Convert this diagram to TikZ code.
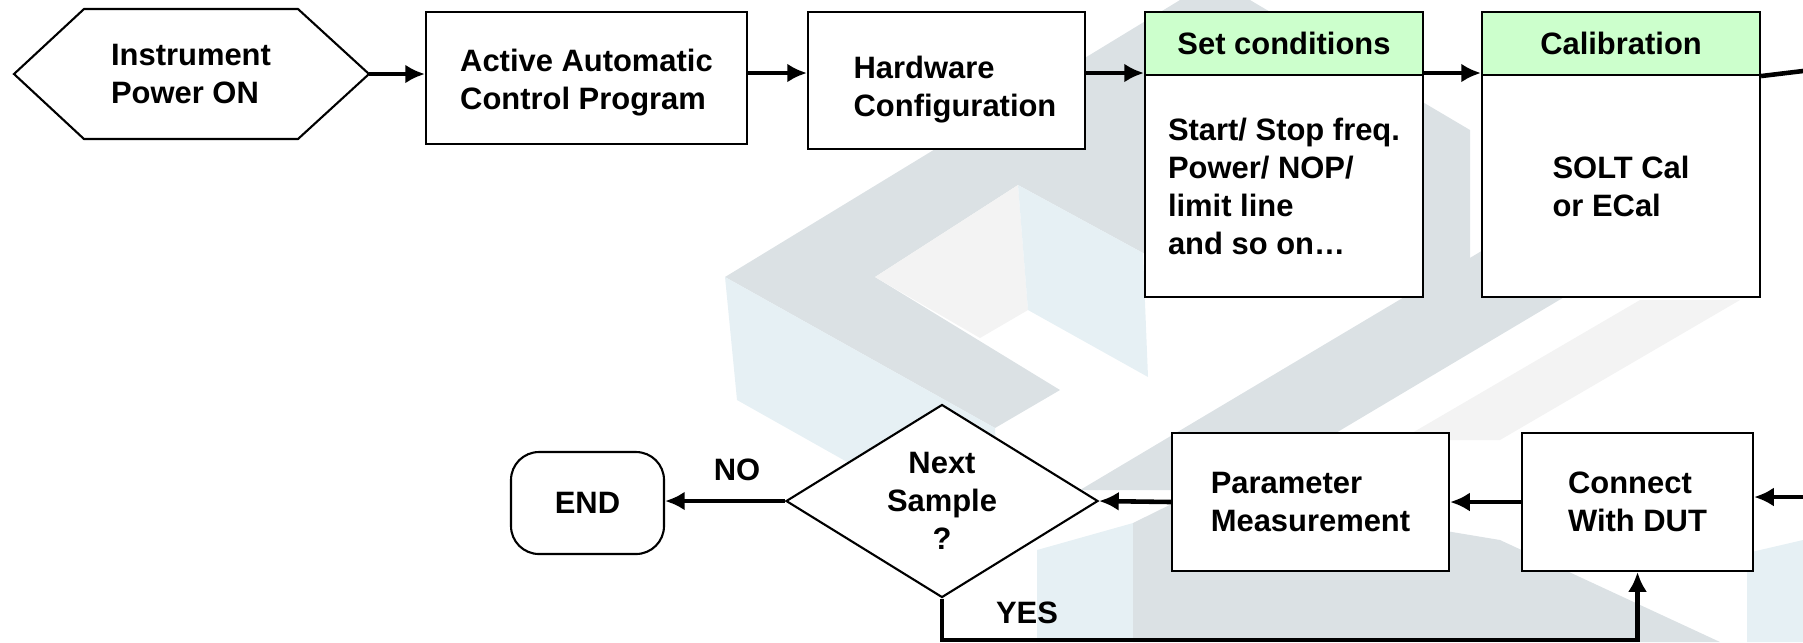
\documentclass[tikz,border=0pt]{standalone}
\usepackage{fontspec}
\setmainfont{Liberation Sans}
\usetikzlibrary{arrows.meta,shapes.geometric}

\definecolor{headgreen}{RGB}{204,255,204}
\definecolor{wmgray}{RGB}{219,225,228}
\definecolor{wmblue}{RGB}{230,240,244}
\definecolor{wmlight}{RGB}{243,243,243}

\begin{document}
\begin{tikzpicture}[x=0.1mm,y=-0.1mm]
\tikzset{edge/.style = {->,> = {Latex[length=5.6pt,width=5.4pt]}, line width=1.3pt}}
\tikzset{txt/.style = {align=left,font=\fontsize{8.8}{10.8}\selectfont\bfseries,inner sep=0pt}}
\tikzset{box/.style = {txt,shape=rectangle,draw=black,fill=white,line width=0.6pt}}

\useasboundingbox (0,0) rectangle (1803,642);

% faint background logo
\fill[wmgray] (725,277) -- (1180,0) -- (1250,0) -- (1470,130) -- (1470,300) -- (1143,253) -- (1018,185) -- (875,277) -- (1060,390) -- (995,428) -- cycle;
\fill[wmblue] (725,277) -- (995,428) -- (1000,548) -- (737,400) -- cycle;
\fill[wmlight] (875,277) -- (1018,185) -- (1028,310) -- (980,338) -- cycle;
\fill[wmblue] (1018,185) -- (1143,253) -- (1148,377) -- (1028,310) -- cycle;
\fill[wmgray] (1080,490) -- (1500,240) -- (1660,240) -- (1240,490) -- cycle;
\fill[wmlight] (1400,440) -- (1640,300) -- (1740,300) -- (1500,440) -- cycle;
\fill[wmblue] (1037,550) -- (1133,523) -- (1133,642) -- (1037,642) -- cycle;
\fill[wmgray] (1133,523) -- (1200,490) -- (1500,540) -- (1720,642) -- (1133,642) -- cycle;
\fill[wmblue] (1747,553) -- (1803,540) -- (1803,642) -- (1747,642) -- cycle;

% top row
\draw[line width=0.6pt,fill=white] (14,74) -- (84,9) -- (298,9) -- (369,74) -- (298,139) -- (84,139) -- cycle;
\node[txt] (pwr) at (191,74) {Instrument\\Power ON};
\coordinate (pwrtip) at (369,74);
\coordinate (row) at (0,73);

\node[box,minimum width=32.1mm,minimum height=13.2mm] (prog) at (586.5,78) {};
\node[txt] (progtxt) at (586.5,83) {Active Automatic\\Control Program};
\node[box,minimum width=27.7mm,minimum height=13.7mm] (hw) at (946.5,80.5) {};
\node[txt] (hwtxt) at (955,90) {Hardware\\Configuration};

\node[box,fill=headgreen,minimum width=27.8mm,minimum height=6.3mm] (seth) at (1284,43.5) {Set conditions};
\node[box,minimum width=27.8mm,minimum height=22.2mm] (setb) at (1284,186) {Start/ Stop freq.\\Power/ NOP/\\limit line\\and so on\ldots};
\node[box,fill=headgreen,minimum width=27.8mm,minimum height=6.3mm] (calh) at (1621,43.5) {Calibration};
\node[box,minimum width=27.8mm,minimum height=22.2mm] (calb) at (1621,186) {SOLT Cal\\or ECal};

% bottom row
\node[box,minimum width=23.1mm,minimum height=13.8mm] (dut) at (1637.5,502) {Connect\\With DUT};
\node[box,minimum width=27.7mm,minimum height=13.8mm] (meas) at (1310.5,502) {Parameter\\Measurement};
\node[txt,shape=diamond,draw=black,fill=white,line width=0.6pt,aspect=1.6,minimum width=31.2mm,minimum height=19.3mm,align=center] (next) at (942,501) {Next\\Sample\\?};
\node[box,rounded corners=2.8mm,minimum width=15.3mm,minimum height=10.2mm] (end) at (587.5,503) {END};

\coordinate (out) at (1803,71);
\coordinate (in) at (1803,497);
\coordinate (bot) at (0,640);

\path [] (pwrtip) edge[edge] (pwrtip -| prog.west);
\path [] (prog.east |- row) edge[edge] (hw.west |- row);
\path [] (hw.east |- row) edge[edge] (seth.west |- row);
\path [] (seth.east |- row) edge[edge] (calh.west |- row);
\draw[line width=1.3pt] (calh.south east) -- (out);
\path [] (in) edge[edge] (in -| dut.east);
\path [] (dut.west) edge[edge] (meas.east);
\path [] (meas.west) edge[edge] (next.east);
\path [] (next.west) edge[edge] node[txt,pos=0.4,above=5pt] (lno) {NO} (next.west -| end.east);
\draw[edge] (next.south) -- (next.south |- bot) -| (dut.south);
\node[txt] (lyes) at (1027,613) {YES};
\end{tikzpicture}
\end{document}
